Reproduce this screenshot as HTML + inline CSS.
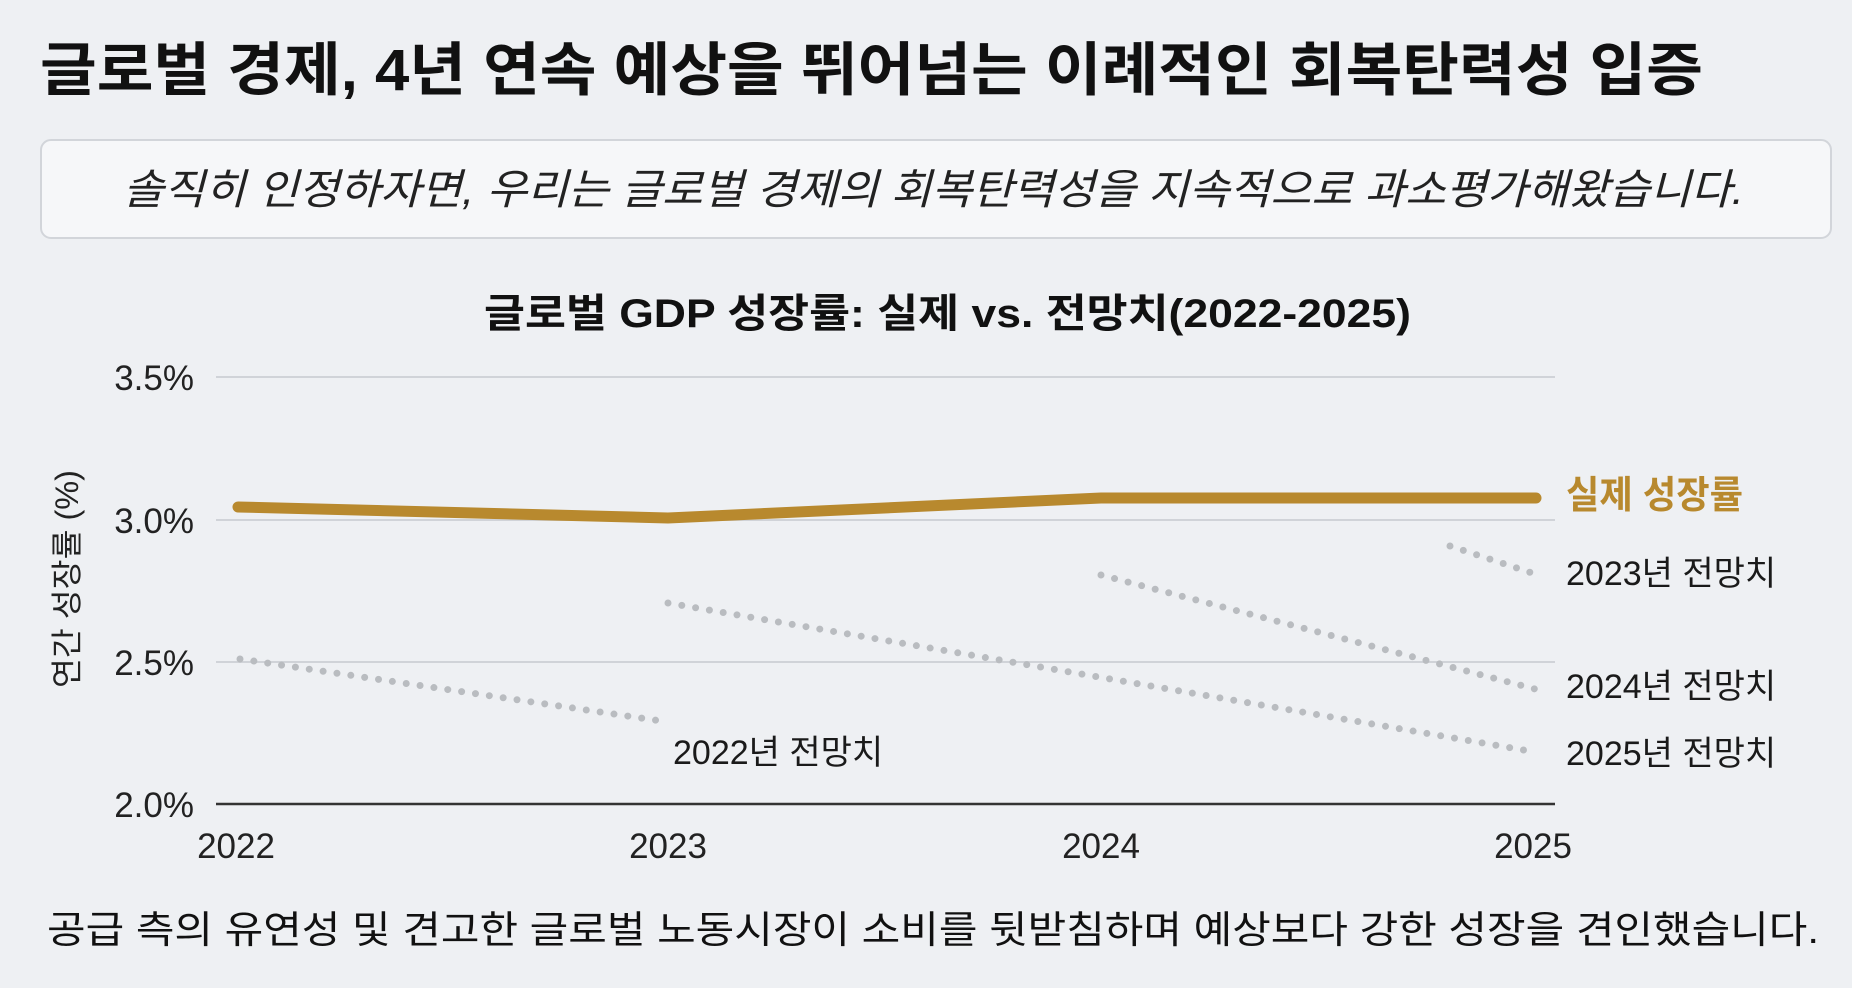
<!DOCTYPE html>
<html><head><meta charset="utf-8"><style>
body{margin:0;width:1852px;height:988px;background:#eef0f3;overflow:hidden;font-family:"Liberation Sans","Noto Sans CJK KR",sans-serif;}
</style></head><body>
<svg width="1852" height="988" xmlns="http://www.w3.org/2000/svg" style="position:absolute;left:0;top:0">
<rect x="0" y="0" width="1852" height="988" fill="#eef0f3"/>
<text x="40" y="90" font-size="58" font-weight="bold" fill="#111" textLength="1663" lengthAdjust="spacingAndGlyphs" font-family="Liberation Sans,Noto Sans CJK KR,sans-serif">글로벌 경제, 4년 연속 예상을 뛰어넘는 이례적인 회복탄력성 입증</text>
<rect x="41" y="140" width="1790" height="98" rx="10" fill="#f6f7f9" stroke="#d2d5da" stroke-width="2"/>
<text x="123" y="204" font-size="42" font-style="italic" fill="#222" textLength="1621" lengthAdjust="spacingAndGlyphs" font-family="Liberation Sans,Noto Sans CJK KR,sans-serif">솔직히 인정하자면, 우리는 글로벌 경제의 회복탄력성을 지속적으로 과소평가해왔습니다.</text>
<text x="484" y="327" font-size="40" font-weight="bold" fill="#111" textLength="927" lengthAdjust="spacingAndGlyphs" font-family="Liberation Sans,Noto Sans CJK KR,sans-serif">글로벌 GDP 성장률: 실제 vs. 전망치(2022-2025)</text>
<g stroke="#d0d3d8" stroke-width="2">
<line x1="216" y1="377" x2="1555" y2="377"/>
<line x1="216" y1="520" x2="1555" y2="520"/>
<line x1="216" y1="662" x2="1555" y2="662"/>
</g>
<line x1="216" y1="804" x2="1555" y2="804" stroke="#333" stroke-width="2.5"/>
<g font-size="35" fill="#222" text-anchor="end" font-family="Liberation Sans,sans-serif">
<text x="194" y="390">3.5%</text><text x="194" y="533">3.0%</text><text x="194" y="675">2.5%</text><text x="194" y="817">2.0%</text>
</g>
<g font-size="35" fill="#222" text-anchor="middle" font-family="Liberation Sans,sans-serif">
<text x="236" y="858">2022</text><text x="668" y="858">2023</text><text x="1101" y="858">2024</text><text x="1533" y="858">2025</text>
</g>
<text transform="translate(78,579) rotate(-90)" font-size="32" fill="#222" text-anchor="middle" textLength="218" lengthAdjust="spacingAndGlyphs" font-family="Liberation Sans,Noto Sans CJK KR,sans-serif">연간 성장률 (%)</text>
<g stroke="#b9bcc0" stroke-width="7" stroke-linecap="round" stroke-dasharray="0 14" fill="none">
<line x1="240" y1="659" x2="668" y2="722"/>
<line x1="668" y1="603" x2="1535" y2="752"/>
<line x1="1101" y1="575" x2="1535" y2="689"/>
<line x1="1450" y1="546" x2="1535" y2="574"/>
</g>
<polyline points="238,507 668,518 1101,498 1536,498" fill="none" stroke="#b8892e" stroke-width="11" stroke-linecap="round" stroke-linejoin="round"/>
<text x="1566" y="508" font-size="38" font-weight="bold" fill="#b8892e" textLength="177" lengthAdjust="spacingAndGlyphs" font-family="Liberation Sans,Noto Sans CJK KR,sans-serif">실제 성장률</text>
<g font-size="34" fill="#1a1a1a" font-family="Liberation Sans,Noto Sans CJK KR,sans-serif">
<text x="1566" y="585">2023년 전망치</text>
<text x="1566" y="698">2024년 전망치</text>
<text x="1566" y="765">2025년 전망치</text>
<text x="673" y="764">2022년 전망치</text>
</g>
<text x="47" y="943" font-size="38" fill="#111" textLength="1772" lengthAdjust="spacingAndGlyphs" font-family="Liberation Sans,Noto Sans CJK KR,sans-serif">공급 측의 유연성 및 견고한 글로벌 노동시장이 소비를 뒷받침하며 예상보다 강한 성장을 견인했습니다.</text>
</svg>
</body></html>
